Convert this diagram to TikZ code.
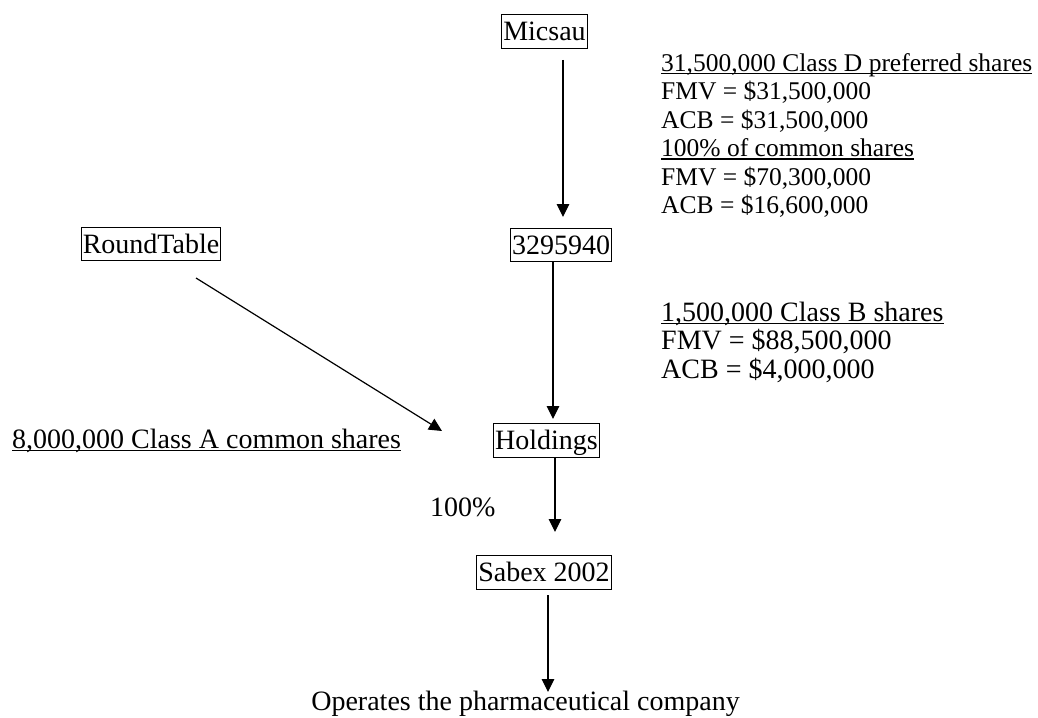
\documentclass[tikz,border=0pt]{standalone}
\usepackage{fontspec}
\setmainfont{Liberation Serif}
\usetikzlibrary{arrows.meta}
\newcommand\myul[1]{\setbox0\hbox{#1}\rlap{\rule[-3pt]{\wd0}{1.3pt}}\box0}
\begin{document}
\begin{tikzpicture}[x=1pt,y=-1pt,
 ent/.style={draw, line width=1.1pt, inner xsep=1.5pt, inner ysep=4pt, text height=22pt, text depth=3.5pt, font=\fontsize{28}{33}\selectfont},
 big/.style={inner sep=0pt, font=\fontsize{28}{33}\selectfont, anchor=base west},
 small/.style={inner sep=0pt, font=\fontsize{25.5}{29}\selectfont, anchor=base west},
 arr/.style={line width=1.2pt, -{Triangle[width=12.5pt,length=13pt]}}]
\useasboundingbox (0,0) rectangle (1038,717);
\node[ent] (mic) at (544.5,31.5) {Micsau};
\node[ent] (num) at (561,245) {3295940};
\node[ent] (rt) at (151,244) {RoundTable};
\node[ent] (hold) at (546.5,440.5) {Holdings};
\node[ent] (sab) at (544,572.5) {Sabex 2002};
\coordinate (a1s) at (563,60);
\coordinate (a1e) at (563,217);
\coordinate (a2s) at (553,262);
\coordinate (a2e) at (553,419);
\coordinate (a3s) at (196,278);
\coordinate (a3e) at (442,431);
\coordinate (a4s) at (555,457);
\coordinate (a4e) at (555,532);
\coordinate (a5s) at (548,595);
\coordinate (a5e) at (548,692);
\draw[arr] (a1s) -- (a1e);
\draw[arr] (a2s) -- (a2e);
\draw[arr] (a3s) -- (a3e);
\draw[arr] (a4s) -- (a4e);
\draw[arr] (a5s) -- (a5e);
\node[big] (cls) at (12,448) {\myul{8,000,000 Class A common shares}};
\node[big] (pct) at (430,516) {100\%};
\node[big, anchor=base] (ops) at (525.5,710) {Operates the pharmaceutical company};
\node[small] (d1) at (661,71) {\myul{31,500,000 Class D preferred shares}};
\node[small] (d2) at (661,99.5) {FMV = \$31,500,000};
\node[small] (d3) at (661,128) {ACB = \$31,500,000};
\node[small] (d4) at (661,156.5) {\myul{100\% of common shares}};
\node[small] (d5) at (661,185) {FMV = \$70,300,000};
\node[small] (d6) at (661,213.5) {ACB = \$16,600,000};
\node[big] (b1) at (661,321) {\myul{1,500,000 Class B shares}};
\node[big] (b2) at (661,349.5) {FMV = \$88,500,000};
\node[big] (b3) at (661,378) {ACB = \$4,000,000};
\end{tikzpicture}
\end{document}
